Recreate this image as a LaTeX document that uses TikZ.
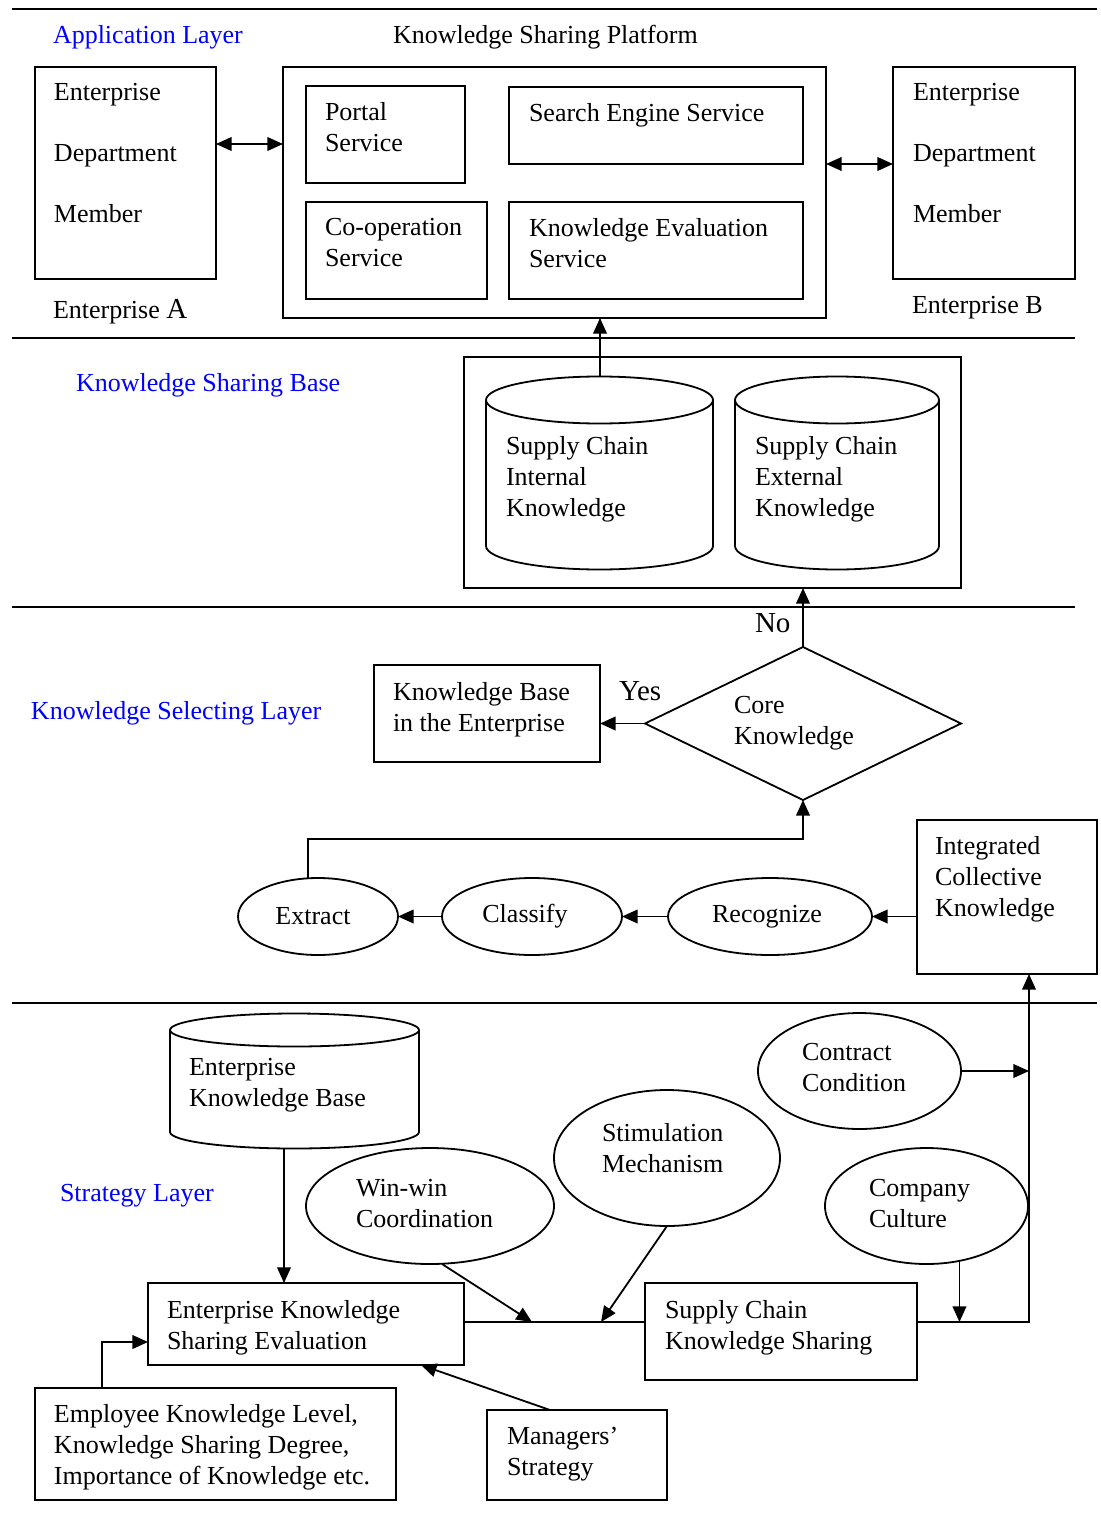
\documentclass[tikz,border=0pt]{standalone}
\usepackage{fontspec}
\setmainfont{Liberation Serif}
\usetikzlibrary{shapes.geometric,arrows.meta}
\begin{document}
\begin{tikzpicture}[x=0.5pt,y=-0.5pt,
  every node/.style={inner sep=0pt, outer sep=0pt},
  wh/.style 2 args={minimum width=#1*0.5pt, minimum height=#2*0.5pt},
  rule/.style={line width=0.9pt},
  box/.style={draw, rule, rectangle, anchor=north west},
  ell/.style={draw, rule, ellipse, font=\fontsize{13}{15.5}\selectfont},
  txt/.style={anchor=north west, align=left, font=\fontsize{13}{15.5}\selectfont},
  big/.style={anchor=north west, font=\fontsize{14.5}{16}\selectfont},
  lay/.style={txt, text=blue},
  arr/.style={rule, -{Triangle[length=7.8pt,width=6.8pt]}},
  darr/.style={rule, {Triangle[length=7.8pt,width=6.8pt]}-{Triangle[length=7.8pt,width=6.8pt]}},
]
\useasboundingbox (0,0) rectangle (1100,1520);

% layer separators
\draw[rule] (12,9) -- (1097,9);
\draw[rule] (12,338) -- (1075,338);
\draw[rule] (12,607) -- (1075,607);
\draw[rule] (12,1003) -- (1097,1003);

% layer labels
\node[lay] (lapp) at (53,25.5) {Application Layer};
\node[lay] (lksb) at (76,373.5) {Knowledge Sharing Base};
\node[lay] (lksl) at (31,701.5) {Knowledge Selecting Layer};
\node[lay] (lstr) at (60,1184.5) {Strategy Layer};

% application layer
\node[txt] (tksp) at (393,25.5) {Knowledge Sharing Platform};
\node[box, wh={181}{212}] (entA) at (35,67) {};
\node[txt] (tentA) at (54,83.5) {Enterprise\\[15pt]Department\\[15pt]Member};
\node[txt] (lentA) at (53,299.5) {Enterprise {\fontsize{14.5}{15.5}\selectfont A}};
\node[box, wh={543}{251}] (plat) at (283,67) {};
\node[box, wh={159}{97}] (portal) at (306,86) {};
\node[txt] (tportal) at (325,102.5) {Portal\\Service};
\node[box, wh={294}{77}] (search) at (509,87) {};
\node[txt] (tsearch) at (529,103.5) {Search Engine Service};
\node[box, wh={181}{97}] (coop) at (306,202) {};
\node[txt] (tcoop) at (325,218.5) {Co-operation\\Service};
\node[box, wh={294}{97}] (kes) at (509,202) {};
\node[txt] (tkes) at (529,218.5) {Knowledge Evaluation\\Service};
\node[box, wh={182}{212}] (entB) at (893,67) {};
\node[txt] (tentB) at (913,83.5) {Enterprise\\[15pt]Department\\[15pt]Member};
\node[txt] (lentB) at (912,296.5) {Enterprise B};

% knowledge sharing base
\node[box, wh={497}{231}] (ksb) at (464,357) {};
\draw[rule] (599.5,400) ellipse [x radius=56.75pt, y radius=11.75pt];
\draw[rule] (486,400) -- (486,546) arc[start angle=180, end angle=360, x radius=56.75pt, y radius=11.75pt] -- (713,400);
\coordinate (c1top) at (600,376.5);
\node[txt] (tcyl1) at (506,436.5) {Supply Chain\\Internal\\Knowledge};
\draw[rule] (837,400) ellipse [x radius=51pt, y radius=11.75pt];
\draw[rule] (735,400) -- (735,546) arc[start angle=180, end angle=360, x radius=51pt, y radius=11.75pt] -- (939,400);
\node[txt] (tcyl2) at (755,436.5) {Supply Chain\\External\\Knowledge};

% knowledge selecting layer
\node[draw, rule, diamond, wh={316}{153}] (dia) at (803,723.5) {};
\node[txt] (tdia) at (734,696.5) {Core\\Knowledge};
\node[box, wh={226}{97}] (kbent) at (374,665) {};
\node[txt] (tkbent) at (393,682.5) {Knowledge Base\\in the Enterprise};
\node[big] (tyes) at (619,681.5) {Yes};
\node[big] (tno) at (755,613.5) {No};
\node[ell, wh={160}{77}] (ext) at (318,916.5) {Extract\hspace*{5pt}};
\node[ell, wh={180}{77}] (cla) at (532,916.5) {Classify\hspace*{7pt}};
\node[ell, wh={204}{77}] (rec) at (770,916.5) {Recognize\hspace*{3pt}};
\node[box, wh={180}{154}] (ick) at (917,820) {};
\node[txt] (tick) at (935,836.5) {Integrated\\Collective\\Knowledge};

% strategy layer
\draw[rule] (294.5,1030) ellipse [x radius=62.25pt, y radius=8.25pt];
\draw[rule] (170,1030) -- (170,1132) arc[start angle=180, end angle=360, x radius=62.25pt, y radius=8.25pt] -- (419,1030);
\coordinate (ekbbot) at (284,1148);
\node[txt] (tekb) at (189,1058.5) {Enterprise\\Knowledge Base};
\node[ell, wh={248}{116}] (ww) at (430,1206) {};
\node[txt] (tww) at (356,1179.5) {Win-win\\Coordination};
\node[ell, wh={226}{136}] (stim) at (667,1158) {};
\node[txt] (tstim) at (602,1123.5) {Stimulation\\Mechanism};
\node[ell, wh={203}{116}] (con) at (859.5,1071) {};
\node[txt] (tcon) at (802,1043.5) {Contract\\Condition};
\node[ell, wh={203}{116}] (cc) at (926.5,1206) {};
\node[txt] (tcc) at (869,1179.5) {Company\\Culture};
\node[box, wh={316}{82}] (ekse) at (148,1283) {};
\node[txt] (tekse) at (167,1300.5) {Enterprise Knowledge\\Sharing Evaluation};
\node[box, wh={272}{97}] (scks) at (645,1283) {};
\node[txt] (tscks) at (665,1300.5) {Supply Chain\\Knowledge Sharing};
\node[box, wh={361}{112}] (emp) at (35,1388) {};
\node[txt] (temp) at (54,1404.5) {Employee Knowledge Level,\\Knowledge Sharing Degree,\\Importance of Knowledge etc.};
\node[box, wh={180}{90}] (mgr) at (487,1410) {};
\node[txt] (tmgr) at (507,1427.5) {Managers’\\Strategy};

\coordinate (j1) at (532,1322);
\coordinate (j2) at (601,1322);
\coordinate (j3) at (1029,1071);

% connectors
\draw[darr] (entA.east |- 0,144) -- (plat.west |- 0,144);
\draw[darr] (plat.east |- 0,164) -- (entB.west |- 0,164);
\draw[arr] (c1top) -- (c1top |- plat.south);
\draw[arr] (dia.north) -- (dia.north |- ksb.south);
\draw[arr] (dia.west) -- (dia.west -| kbent.east);
\draw[arr] (ick.west |- rec.east) -- (rec.east);
\draw[arr] (rec.west) -- (cla.east);
\draw[arr] (cla.west) -- (ext.east);
\draw[arr] (ext.105) -- (ext.105 |- 0,839) -| (dia.south);
\draw[arr] (ekbbot) -- (ekbbot |- ekse.north);
\draw[arr] (emp.north -| 102,0) |- (ekse.west |- 0,1342);
\draw[arr] (mgr.north -| 550,0) -- (ekse.south -| 421,0);
\draw[rule] (ekse.east |- 0,1322) -- (scks.west |- 0,1322);
\draw[arr] (ww.south -| 442,0) -- (j1);
\draw[arr] (stim.south) -- (j2);
\draw[arr] (con.east) -- (j3);
\draw[arr] (cc.-59) -- (cc.-59 |- j1);
\draw[arr] (scks.east |- 0,1322) -| (ick.south -| 1029,0);
\end{tikzpicture}
\end{document}
